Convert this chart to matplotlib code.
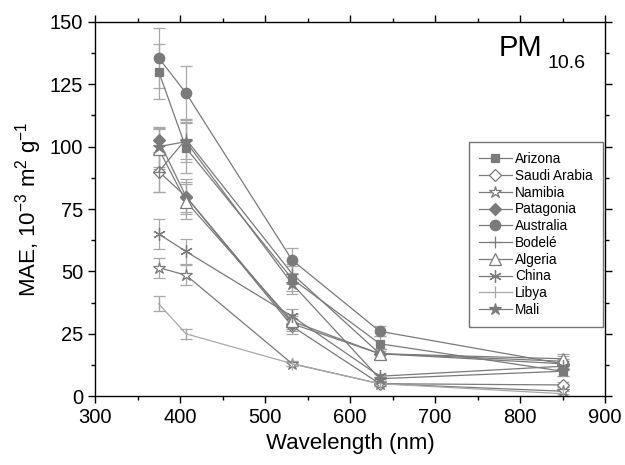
import matplotlib
matplotlib.use("Agg")
import matplotlib.pyplot as plt

plt.rcParams['font.family'] = ['Liberation Sans', 'DejaVu Sans']
plt.rcParams['mathtext.fontset'] = 'custom'
plt.rcParams['mathtext.rm'] = 'Liberation Sans'
plt.rcParams['mathtext.it'] = 'Liberation Sans'

wavelengths = [375, 407, 532, 635, 850]

arizona = [130, 99.5, 47, 21, 10]
saudi_arabia = [90, 80, 28, 5, 4.5]
namibia = [51.5, 48.5, 13, 5, 2]
patagonia = [102.5, 80, 29, 17, 13]
australia = [135.5, 121.5, 54.5, 26, 13]
bodele = [90, 103, 49, 17, 14]
algeria = [99, 78, 30, 17, 15]
china = [65, 58, 32, 8, 12]
libya = [37, 25, 13, 5, 1]
mali = [100, 102, 45, 7, 10]

arizona_err = [11, 10, 5, 3, 2]
saudi_err = [8, 7, 3, 1, 1]
namibia_err = [4, 4, 1, 1, 1]
patagonia_err = [5, 6, 3, 2, 2]
australia_err = [12, 11, 5, 2, 2]
bodele_err = [8, 8, 4, 2, 2]
algeria_err = [8, 7, 3, 2, 2]
china_err = [6, 5, 3, 1, 1]
libya_err = [3, 2, 1, 1, 1]
mali_err = [8, 8, 4, 2, 2]

gray = '#7a7a7a'
light = '#a8a8a8'

series = [
    ("Arizona", arizona, arizona_err, gray, dict(marker='s', mfc=gray, ms=6)),
    ("Saudi Arabia", saudi_arabia, saudi_err, gray, dict(marker='D', mfc='white', ms=6)),
    ("Namibia", namibia, namibia_err, gray, dict(marker='*', mfc='white', ms=9)),
    ("Patagonia", patagonia, patagonia_err, gray, dict(marker='D', mfc=gray, ms=6)),
    ("Australia", australia, australia_err, gray, dict(marker='o', mfc=gray, ms=7.5)),
    ("Bodelé", bodele, bodele_err, gray, dict(marker='+', ms=9)),
    ("Algeria", algeria, algeria_err, gray, dict(marker='^', mfc='white', ms=8)),
    ("China", china, china_err, gray, dict(marker=(6, 2, 0), ms=9)),
    ("Libya", libya, libya_err, light, dict(marker='|', ms=9)),
    ("Mali", mali, mali_err, gray, dict(marker='*', mfc=gray, ms=9)),
]

fig = plt.figure(figsize=(6.25, 4.65), dpi=100)
ax = fig.add_axes([0.152, 0.148, 0.816, 0.805])

handles = []
for name, vals, errs, col, st in series:
    c = ax.errorbar(wavelengths, vals, yerr=errs, color=col, ecolor='#a8a8a8',
                    elinewidth=0.9, capsize=4, capthick=0.9, lw=0.9,
                    mec=col, mew=0.9, label=name, **st)
    handles.append(c[0])

ax.set_xlim(300, 900)
ax.set_ylim(0, 150)
ax.set_xticks(range(300, 901, 100))
ax.set_xticks(range(350, 900, 100), minor=True)
ax.set_yticks(range(0, 151, 25))
ax.set_yticks([12.5 + 25 * i for i in range(6)], minor=True)
ax.tick_params(which='both', direction='out', top=True, right=True,
               labeltop=False, labelright=False, width=1.0, labelsize=14.5)
ax.tick_params(which='major', length=5)
ax.tick_params(which='minor', length=3)
for sp in ax.spines.values():
    sp.set_linewidth(1.0)

ax.set_xlabel("Wavelength (nm)", fontsize=16)
ax.set_ylabel("MAE, 10$^{-3}$ m$^{2}$ g$^{-1}$", fontsize=16)
ax.text(0.792, 0.909, "PM", transform=ax.transAxes, fontsize=21, va='baseline')
ax.text(0.888, 0.876, "10.6", transform=ax.transAxes, fontsize=14, va='baseline')

leg = ax.legend(handles=handles, labels=[s[0] for s in series],
                loc='upper left', bbox_to_anchor=(0.733, 0.679), fontsize=9.8,
                frameon=True, fancybox=False, edgecolor='#505050',
                handlelength=2.4, borderpad=0.75, labelspacing=0.2, handletextpad=0.25,
                borderaxespad=0)
leg.get_frame().set_linewidth(1.0)

fig.savefig("out.png", dpi=100)
